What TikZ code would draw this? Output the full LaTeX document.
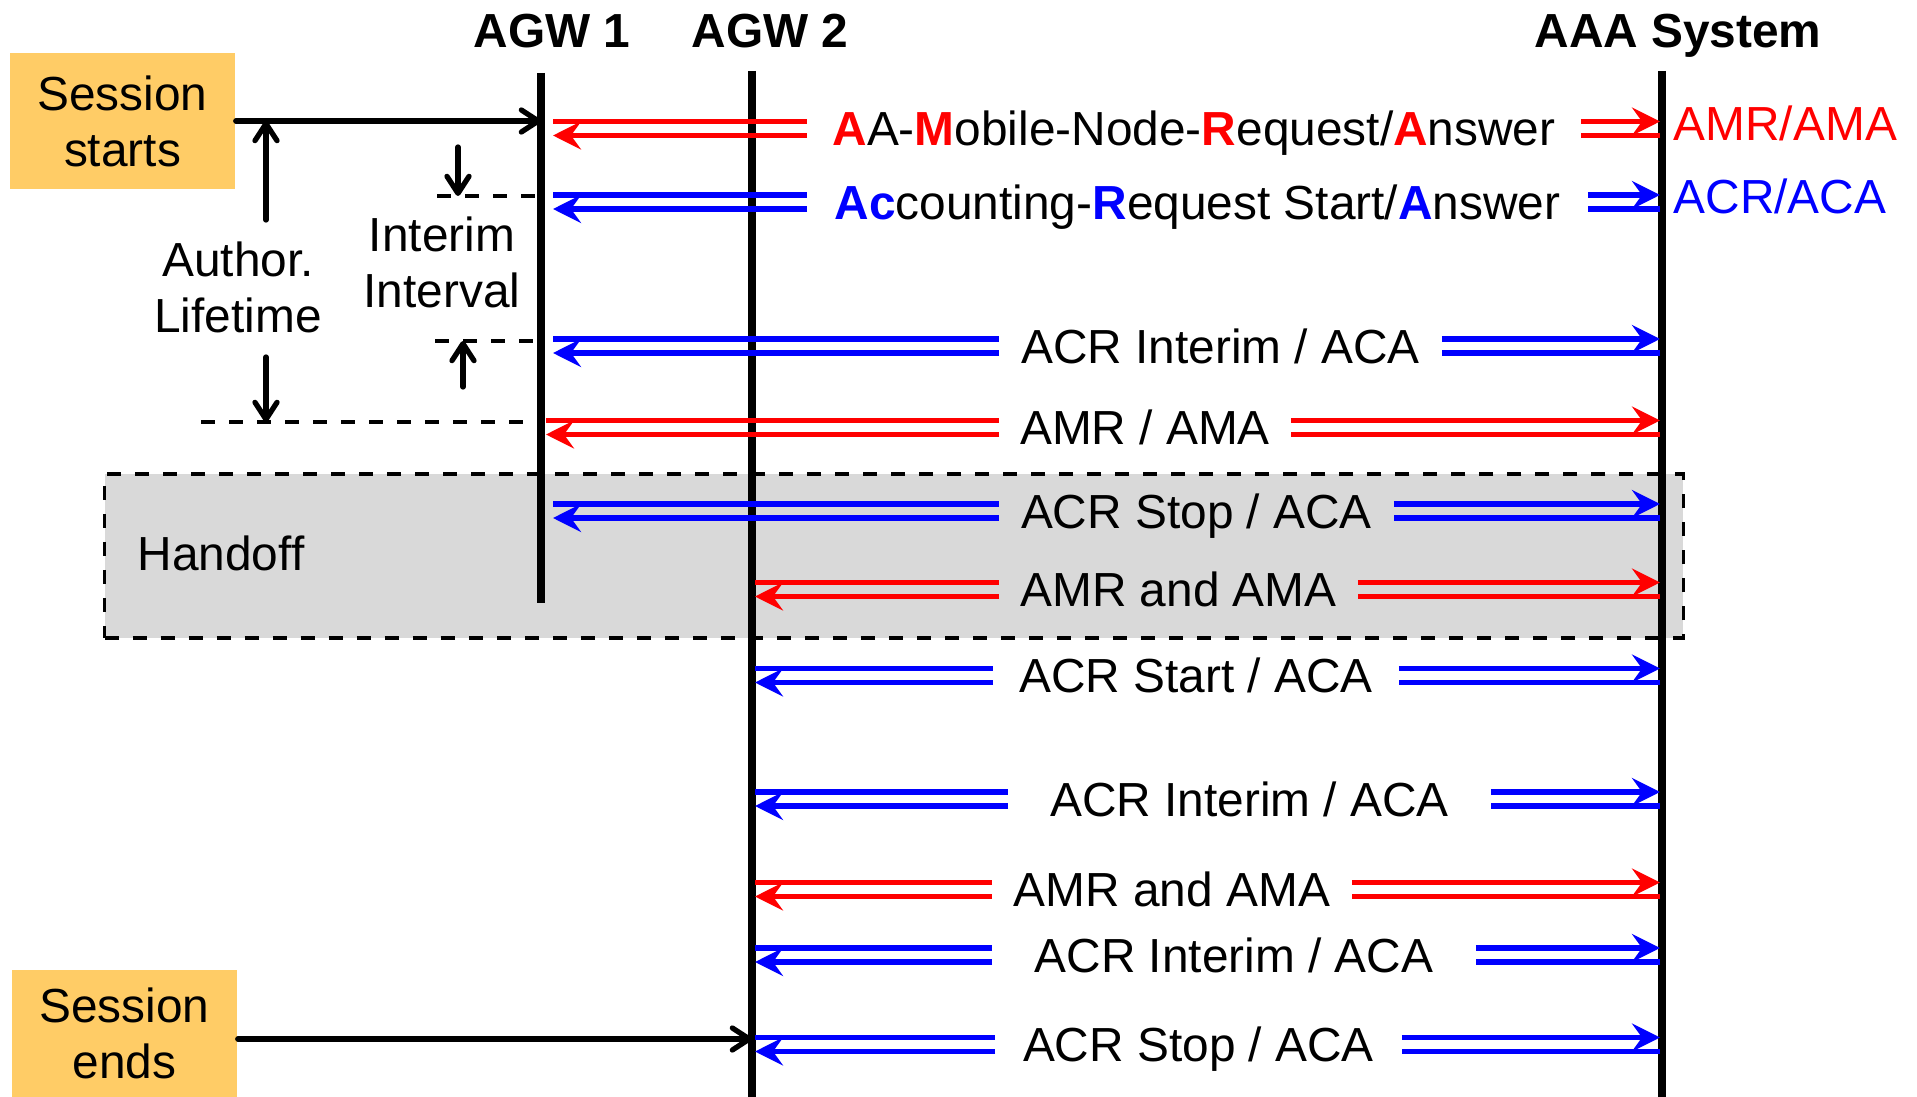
\documentclass[tikz,border=0pt]{standalone}
\usepackage{fontspec}
\setmainfont{Liberation Sans}
\usetikzlibrary{arrows.meta}
\definecolor{sessfill}{RGB}{255,204,102}
\definecolor{handgray}{RGB}{217,217,217}

\begin{document}
\begin{tikzpicture}[x=0.01cm, y=-0.01cm,
            font=\fontsize{13.6pt}{15.9pt}\selectfont,
            life/.style={line width=2.1pt},
            msg/.style={inner sep=0pt, text height=12.5pt, text depth=2.7pt},
            req/.style={line width=1.5pt, -{Stealth[length=0.28cm, width=0.28cm, inset=0.1cm]}},
            hi/.style={yshift=0.07cm}, lo/.style={yshift=-0.07cm},
            sessbox/.style={fill=sessfill, align=center, inner sep=0pt, minimum width=2.25cm},
            dimarrow/.style={line width=1.5pt, line cap=round, -{Straight Barb[length=0.17cm, width=0.22cm, line cap=round, line join=round]}},
            dashline/.style={line width=0.95pt, dash pattern=on 0.14cm off 0.14cm},
            hobox/.style={fill=handgray, draw, dashline, inner sep=0pt}]
    \useasboundingbox (0,0) rectangle (1917,1097);
    \node[hobox, minimum width=15.78cm, minimum height=1.64cm] (ho) at (894,556) {};
    \node[msg] (hotext) at (221,553.5) {Handoff};
    % lifelines
    \node[msg] (agw1) at (552,30) {\textbf{AGW 1}};
    \node[msg] (agw2) at (770,30) {\textbf{AGW 2}};
    \node[msg] (aaa) at (1678,30) {\textbf{AAA System}};
    \coordinate (a1top) at (541,73);
    \coordinate (a1bot) at (541,603);
    \coordinate (a2top) at (752,71);
    \coordinate (a2bot) at (752,1097);
    \coordinate (a3top) at (1662,71);
    \coordinate (a3bot) at (1662,1097);
    \draw[life] (a1top) -- (a1bot);
    \draw[life] (a2top) -- (a2bot);
    \draw[life] (a3top) -- (a3bot);
    \coordinate (p1) at (553,0);
    \coordinate (p1e) at (546,0);
    \coordinate (p2) at (755,0);
    \coordinate (p3) at (1660,0);
    % messages
    \node[msg, minimum width=7.72cm] (amr) at (1194,128.5) {\textcolor{red}{\textbf{A}}A-\textcolor{red}{\textbf{M}}obile-Node-\textcolor{red}{\textbf{R}}equest/\textcolor{red}{\textbf{A}}nswer};
    \node[msg, minimum width=7.79cm] (acr) at (1197.5,202) {\textcolor{blue}{\textbf{Ac}}counting-\textcolor{blue}{\textbf{R}}equest Start/\textcolor{blue}{\textbf{A}}nswer};
    \node[msg, minimum width=4.41cm] (int1) at (1220.5,346) {ACR Interim / ACA};
    \node[msg, minimum width=2.90cm] (amr2) at (1145,427.5) {AMR / AMA};
    \node[msg, minimum width=3.93cm] (stop1) at (1196.5,511) {ACR Stop / ACA};
    \node[msg, minimum width=3.57cm] (amr3) at (1178.5,589.5) {AMR and AMA};
    \node[msg, minimum width=4.04cm] (start2) at (1196,675.5) {ACR Start / ACA};
    \node[msg, minimum width=4.81cm] (int2) at (1249.5,799) {ACR Interim / ACA};
    \node[msg, minimum width=3.58cm] (amr4) at (1172,889.5) {AMR and AMA};
    \node[msg, minimum width=4.82cm] (int3) at (1234,955) {ACR Interim / ACA};
    \node[msg, minimum width=4.05cm] (stop2) at (1198.5,1044.5) {ACR Stop / ACA};
    \foreach \m/\p/\col in {amr/p1/red, acr/p1/blue, int1/p1/blue, amr2/p1e/red, stop1/p1/blue,
            amr3/p2/red, start2/p2/blue, int2/p2/blue, amr4/p2/red, int3/p2/blue, stop2/p2/blue} {
        \draw[req, \col] ([hi]\m.west -| \p) -- ([hi]\m.west) ([hi]\m.east) -- ([hi]\m.east -| p3);
        \draw[req, \col] ([lo]\m.east -| p3) -- ([lo]\m.east) ([lo]\m.west) -- ([lo]\m.west -| \p);
    }
    \node[msg, anchor=west, text=red] (amrlbl) at (1673,123) {AMR/AMA};
    \node[msg, anchor=west, text=blue] (acrlbl) at (1673,196) {ACR/ACA};
    % session boxes
    \node[sessbox, minimum height=1.36cm] (start) at (122.5,121) {Session\\starts};
    \node[sessbox, minimum height=1.27cm] (sessend) at (124.5,1033.5) {Session\\ends};
    \draw[dimarrow] (start.east) -- (start.east -| a1top);
    \draw[dimarrow] ([yshift=-0.055cm]sessend.east) -- ([yshift=-0.055cm]sessend.east -| a2top);
    % lifetime and interim interval
    \node[align=center, inner sep=0pt] (author) at (238,287.5) {Author.\\Lifetime};
    \node[align=center, inner sep=0pt] (interim) at (442,262.5) {Interim\\Interval};
    \coordinate (authup) at (266,220);
    \coordinate (authdn) at (266,357);
    \coordinate (lifeend) at (201,422);
    \draw[dimarrow] (authup) -- (authup |- start.east);
    \draw[dimarrow] (authdn) -- (authdn |- lifeend);
    \draw[dashline] (lifeend) -- (lifeend -| a1top);
    \coordinate (intA) at (437,196);
    \coordinate (intB) at (435,341);
    \coordinate (intdn) at (458,147);
    \coordinate (intup) at (463,387);
    \draw[dashline] (intA) -- (intA -| a1top);
    \draw[dashline] (intB) -- (intB -| a1top);
    \draw[dimarrow] (intdn) -- (intdn |- intA);
    \draw[dimarrow] (intup) -- (intup |- intB);
\end{tikzpicture}
\end{document}
